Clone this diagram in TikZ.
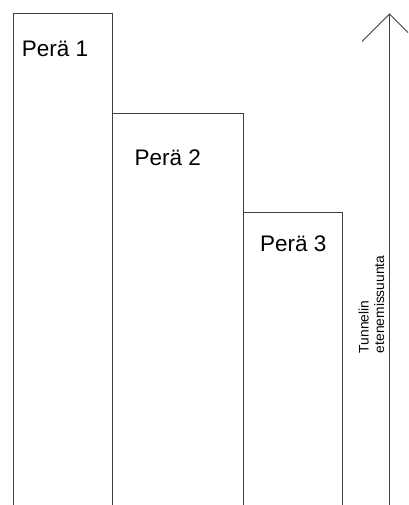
\documentclass[tikz,border=0pt]{standalone}
\usepackage{fontspec}
\setmainfont{Liberation Sans}
\begin{document}
\begin{tikzpicture}[x=1pt,y=-1pt,
  wall/.style={draw=black!75,line width=0.9pt},
  biglabel/.style={font=\fontsize{22.5}{27}\selectfont,inner sep=0pt,anchor=base west},
  smalllabel/.style={font=\fontsize{13.8}{15.5}\selectfont,inner sep=0pt,anchor=base west,rotate=90,align=left}]
\useasboundingbox (0,0) rectangle (408,505);
\clip (0,0) rectangle (408,505);
\fill[white] (0,0) rectangle (408,505);
% faces
\draw[wall] (13.5,505) -- (13.5,13.5) -- (112,13.5) -- (112,505);
\draw[wall] (112,113) -- (243.5,113) -- (243.5,505);
\draw[wall] (243.5,212) -- (342.5,212) -- (342.5,505);
% labels
\node[biglabel] (p1) at (21.6,56.7) {Perä 1};
\node[biglabel] (p2) at (134.3,165) {Perä 2};
\node[biglabel] (p3) at (260,251.7) {Perä 3};
% direction arrow
\coordinate (abot) at (389.5,505);
\coordinate (atip) at (389.5,14);
\coordinate (wl) at (362,41.5);
\coordinate (wr) at (417,41.5);
\draw[wall] (abot) -- (atip);
\draw[wall] (wl) -- (atip) -- (wr);
\node[smalllabel] (dir) at (384,353.2) {Tunnelin\\etenemissuunta};
\end{tikzpicture}
\end{document}
